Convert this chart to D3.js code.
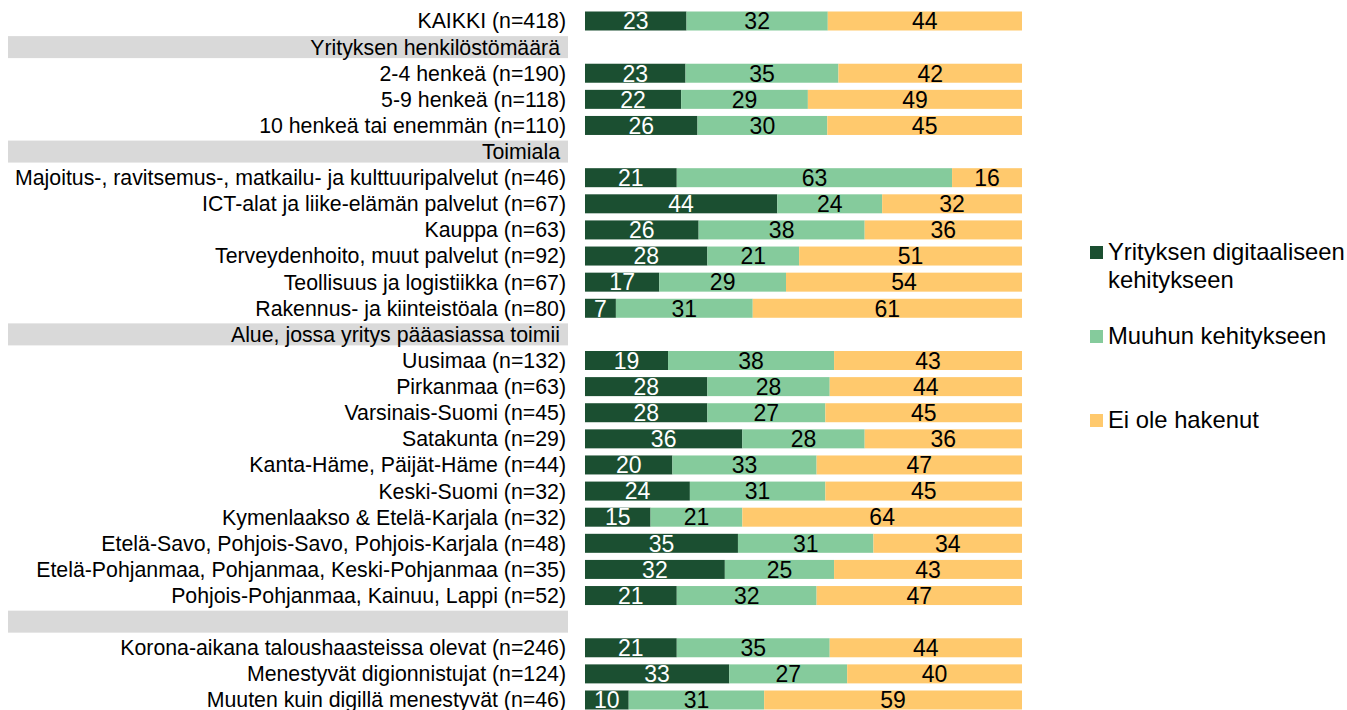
<!DOCTYPE html>
<html>
<head>
<meta charset="utf-8">
<script src="https://cdnjs.cloudflare.com/ajax/libs/d3/7.8.5/d3.min.js"></script>
<style>
  body { margin: 0; background: #fff; }
  text { font-family: "Liberation Sans", Arial, sans-serif; }
</style>
</head>
<body>
<script>
// rows top to bottom; header rows have no values
var labels = [
  "KAIKKI (n=418)",
  "#Yrityksen henkilöstömäärä",
  "2-4 henkeä (n=190)",
  "5-9 henkeä (n=118)",
  "10 henkeä tai enemmän (n=110)",
  "#Toimiala",
  "Majoitus-, ravitsemus-, matkailu- ja kulttuuripalvelut (n=46)",
  "ICT-alat ja liike-elämän palvelut (n=67)",
  "Kauppa (n=63)",
  "Terveydenhoito, muut palvelut (n=92)",
  "Teollisuus ja logistiikka (n=67)",
  "Rakennus- ja kiinteistöala (n=80)",
  "#Alue, jossa yritys pääasiassa toimii",
  "Uusimaa (n=132)",
  "Pirkanmaa (n=63)",
  "Varsinais-Suomi (n=45)",
  "Satakunta (n=29)",
  "Kanta-Häme, Päijät-Häme (n=44)",
  "Keski-Suomi (n=32)",
  "Kymenlaakso & Etelä-Karjala (n=32)",
  "Etelä-Savo, Pohjois-Savo, Pohjois-Karjala (n=48)",
  "Etelä-Pohjanmaa, Pohjanmaa, Keski-Pohjanmaa (n=35)",
  "Pohjois-Pohjanmaa, Kainuu, Lappi (n=52)",
  "#",
  "Korona-aikana taloushaasteissa olevat (n=246)",
  "Menestyvät digionnistujat (n=124)",
  "Muuten kuin digillä menestyvät (n=46)"
];

var seriesNames = ["Yrityksen digitaaliseen kehitykseen", "Muuhun kehitykseen", "Ei ole hakenut"];

var digi = [23, null, 23, 22, 26, null, 21, 44, 26, 28, 17, 7, null, 19, 28, 28, 36, 20, 24, 15, 35, 32, 21, null, 21, 33, 10];
var muu  = [32, null, 35, 29, 30, null, 63, 24, 38, 21, 29, 31, null, 38, 28, 27, 28, 33, 31, 21, 31, 25, 32, null, 35, 27, 31];
var ei   = [44, null, 42, 49, 45, null, 16, 32, 36, 51, 54, 61, null, 43, 44, 45, 36, 47, 45, 64, 34, 43, 47, null, 44, 40, 59];

var colors = ["#1b4f31", "#85cb9c", "#ffc96d"];
var textColors = ["#fff", "#000", "#000"];

var W = 1347, H = 710;
var svg = d3.select("body").append("svg").attr("width", W).attr("height", H);

var rows = labels.map(function(l, i) {
  return { i: i, label: l.replace(/^#/, ""), header: l[0] === "#", s0: digi[i], s1: muu[i], s2: ei[i] };
});
var dataRows = rows.filter(function(d) { return !d.header; });

var y = d3.scalePoint().domain(d3.range(labels.length)).range([21, 700]);
var x = d3.scaleLinear().domain([0, 1]).range([585, 1022]);
var barH = 19;

var stack = d3.stack().keys(["s0", "s1", "s2"]).offset(d3.stackOffsetExpand);
var stacked = stack(dataRows);

// header bands
var hdr = svg.append("g").selectAll("g").data(rows.filter(function(d) { return d.header; })).enter().append("g");
hdr.append("rect")
  .attr("x", 8).attr("width", 560)
  .attr("y", function(d) { return y(d.i) - 11; })
  .attr("height", 22)
  .attr("fill", "#d9d9d9");
hdr.append("text")
  .attr("x", 560)
  .attr("y", function(d) { return y(d.i); })
  .attr("dy", "0.35em")
  .attr("text-anchor", "end")
  .attr("font-size", 21.3)
  .attr("fill", "#000")
  .text(function(d) { return d.label; });

// row labels
svg.append("g").selectAll("text").data(dataRows).enter().append("text")
  .attr("x", 566)
  .attr("y", function(d) { return y(d.i); })
  .attr("dy", "0.35em")
  .attr("text-anchor", "end")
  .attr("font-size", 21.3)
  .attr("fill", "#000")
  .text(function(d) { return d.label; });

// bars
var layer = svg.append("g").selectAll("g").data(stacked).enter().append("g")
  .attr("fill", function(d, k) { return colors[k]; });

layer.selectAll("rect").data(function(d) { return d; }).enter().append("rect")
  .attr("x", function(d) { return x(d[0]); })
  .attr("width", function(d) { return x(d[1]) - x(d[0]); })
  .attr("y", function(d) { return y(d.data.i) - barH / 2; })
  .attr("height", barH);

layer.each(function(s, k) {
  d3.select(this).selectAll("text").data(s).enter().append("text")
    .attr("x", function(d) { return (x(d[0]) + x(d[1])) / 2; })
    .attr("y", function(d) { return y(d.data.i); })
    .attr("dy", "0.36em")
    .attr("text-anchor", "middle")
    .attr("font-size", 23)
    .attr("fill", textColors[k])
    .text(function(d) { return d.data[s.key]; });
});

// legend
var legendY = [252, 336, 420];
var leg = svg.append("g").selectAll("g").data(seriesNames).enter().append("g")
  .attr("transform", function(d, k) { return "translate(1090," + legendY[k] + ")"; });
leg.append("rect").attr("x", 0).attr("y", -6).attr("width", 13).attr("height", 13)
  .attr("fill", function(d, k) { return colors[k]; });
leg.append("text")
  .attr("font-size", 23.8)
  .attr("fill", "#000")
  .each(function(d, k) {
    var t = d3.select(this);
    var parts = k === 0 ? ["Yrityksen digitaaliseen", "kehitykseen"] : [d];
    parts.forEach(function(p, j) {
      t.append("tspan").attr("x", 18).attr("dy", j === 0 ? "0.35em" : "1.17em").text(p);
    });
  });
</script>
</body>
</html>
